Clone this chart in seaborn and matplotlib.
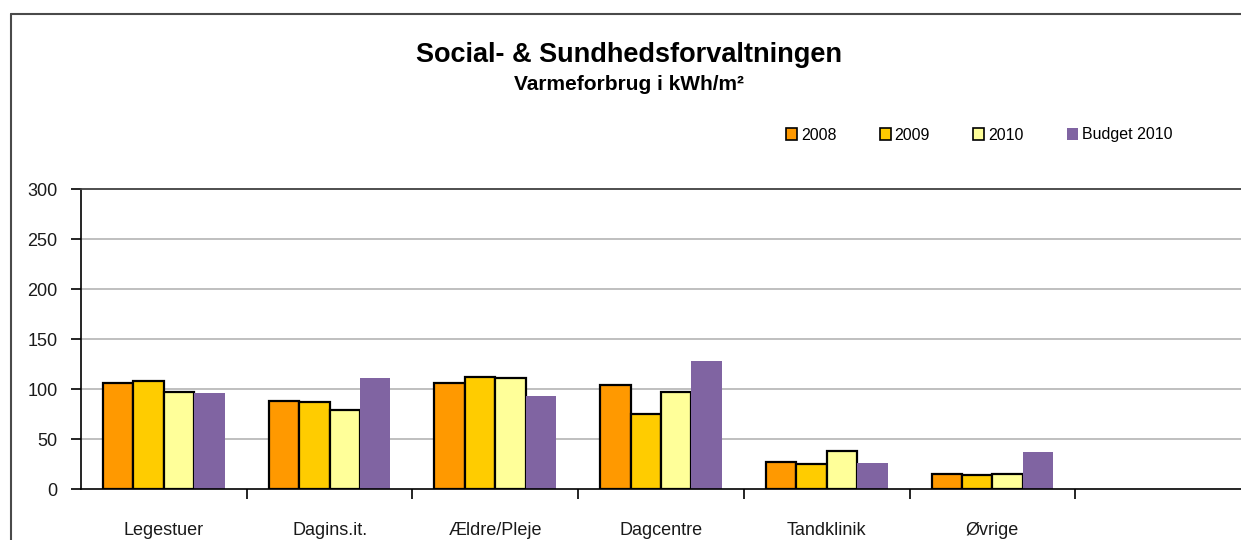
import pandas as pd
import matplotlib.pyplot as plt
import seaborn as sns
from matplotlib.patches import Patch
from matplotlib.lines import Line2D

# data
kategorier = ['Legestuer', 'Dagins.it.', 'Ældre/Pleje', 'Dagcentre', 'Tandklinik', 'Øvrige', ' ']
serier = ['2008', '2009', '2010', 'Budget 2010']
v2008 = [106, 88, 106, 104, 27, 15, None]
v2009 = [108, 87, 112, 75, 25, 14, None]
v2010 = [97, 79, 111, 97, 38, 15, None]
budget = [96, 111, 93, 128, 26, 37, None]
farver = ['#FF9900', '#FFCC00', '#FFFF99', '#8064A2']
yticks = [0, 50, 100, 150, 200, 250, 300]

rows = []
for serie, vals in zip(serier, [v2008, v2009, v2010, budget]):
    for kat, v in zip(kategorier, vals):
        rows.append({'kategori': kat, 'serie': serie, 'kWh': v})
df = pd.DataFrame(rows)

sns.set_theme(style='white')
plt.rcParams['font.family'] = ['Liberation Sans', 'DejaVu Sans']
plt.rcParams['text.color'] = 'black'

fig = plt.figure(figsize=(12.41, 5.4), dpi=100)
ax = fig.add_axes([81 / 1241, 1 - 489 / 540, 1 - 81 / 1241, 300 / 540])

sns.barplot(data=df, x='kategori', y='kWh', hue='serie', order=kategorier,
            hue_order=serier, palette=farver, width=0.735, gap=0,
            saturation=1, ax=ax, legend=False)

# sorte kanter på årssøjlerne, ingen på budget
for i, cont in enumerate(ax.containers):
    for bar in cont:
        if i < 3:
            bar.set_edgecolor('black')
            bar.set_linewidth(1.6)
        else:
            bar.set_linewidth(0)

ax.set_xlim(-0.5, len(kategorier) - 0.5)
ax.set_ylim(0, 300)
ax.set_yticks(yticks)
ax.set_xlabel('')
ax.set_ylabel('')

# gitterlinjer
for y in yticks[1:-1]:
    ax.axhline(y, color='#B4B4B4', lw=1.2, zorder=0)

ax.spines['right'].set_visible(False)
ax.spines['top'].set_color('#404040')
ax.spines['top'].set_linewidth(1.3)
ax.spines['left'].set_color('black')
ax.spines['bottom'].set_color('black')
ax.spines['left'].set_linewidth(1.2)
ax.spines['bottom'].set_linewidth(1.2)

ax.tick_params(axis='y', left=True, length=7, width=1.2, pad=10, labelsize=13,
               labelcolor='#1A1A1A', color='black')
ax.tick_params(axis='x', bottom=False, length=0, pad=24, labelsize=13,
               labelcolor='#1A1A1A')
ax.set_xticks([i + 0.5 for i in range(len(kategorier) - 1)], minor=True)
ax.tick_params(axis='x', which='minor', bottom=True, length=7, width=1.2, color='black')

# titel
fig.text(0.507, 0.898, 'Social- & Sundhedsforvaltningen', ha='center', va='center',
         fontsize=19.5, fontweight='bold', color='black')
fig.text(0.507, 0.843, 'Varmeforbrug i kWh/m²', ha='center', va='center',
         fontsize=15, fontweight='bold', color='black')

# forklaring
handles = [Patch(facecolor=farver[i], edgecolor='black', linewidth=1.2) for i in range(3)]
handles.append(Patch(facecolor=farver[3], edgecolor='none'))
fig.legend(handles, serier, loc='center', bbox_to_anchor=(0.789, 0.75), ncol=4,
           frameon=False, fontsize=11.5, handlelength=0.7, handleheight=0.7,
           handletextpad=0.25, columnspacing=2.7)

# ramme om diagrammet
fig.add_artist(Line2D([11 / 1241, 11 / 1241], [0, 1 - 14 / 540], color='#4A4A4A', lw=1.5,
                      transform=fig.transFigure))
fig.add_artist(Line2D([11 / 1241, 1], [1 - 14 / 540, 1 - 14 / 540], color='#4A4A4A', lw=1.5,
                      transform=fig.transFigure))

fig.savefig('out.png', dpi=100)
